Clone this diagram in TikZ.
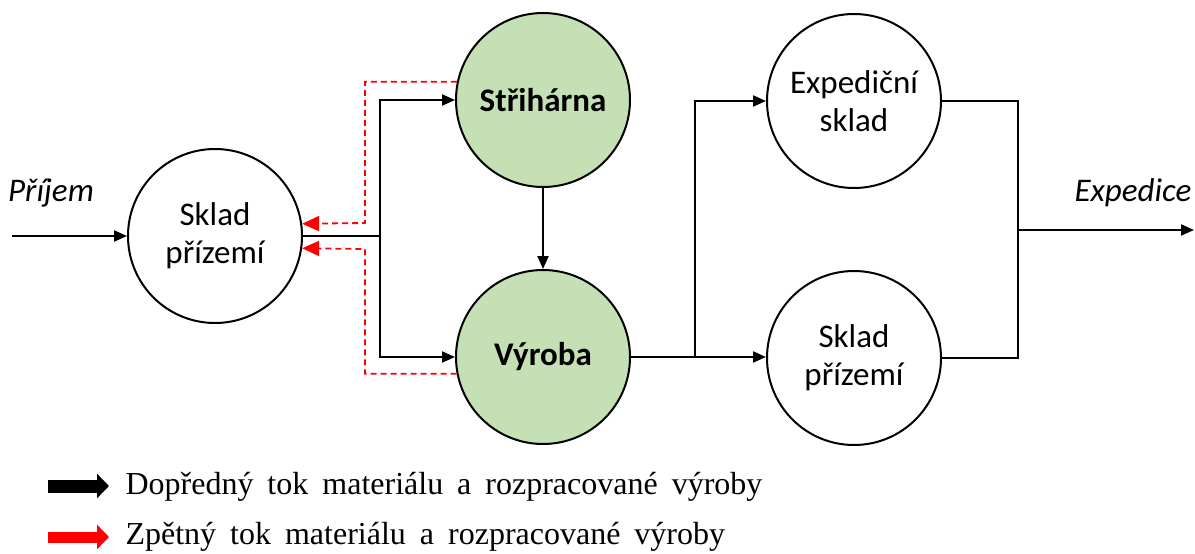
\documentclass[tikz,border=0pt]{standalone}
\usepackage{fontspec}
\setmainfont{Carlito}
\newfontfamily\legendfont{Liberation Serif}
\usetikzlibrary{arrows.meta}
\definecolor{stgreen}{HTML}{C5E0B4}
\begin{document}
\begin{tikzpicture}[x=1pt,y=-1pt,
  stn/.style={circle,draw,line width=2pt,minimum size=174pt,inner sep=0pt,align=center,font=\fontsize{33}{38}\selectfont},
  flow/.style={line width=2pt,-{Triangle[length=13pt,width=11pt]}},
  conn/.style={line width=2pt},
  back/.style={red,line width=1.8pt,dash pattern=on 6pt off 4pt,-{Triangle[length=17pt,width=15pt]}},
  lbl/.style={font=\itshape\fontsize{33}{38}\selectfont},
  legtxt/.style={anchor=west,font=\legendfont\fontsize{32}{38}\selectfont},
  legarrow/.style={line width=13pt,-{Triangle[length=12pt,width=24pt]}}]
\useasboundingbox (0,0) rectangle (1195,554);
% nodes
\node[stn] (L) at (215,236) {Sklad\\přízemí};
\node[stn,fill=stgreen] (S) at (543,100) {\textbf{Střihárna}};
\node[stn,fill=stgreen] (V) at (543,357) {\textbf{Výroba}};
\node[stn] (E) at (854,101) {Expediční\\sklad};
\node[stn] (P) at (854,358) {Sklad\\přízemí};
\node[lbl] (prijem) at (51,193) {Příjem};
\node[lbl] (expedice) at (1133,193) {Expedice};
% coordinates
\coordinate (in) at (12,236);
\coordinate (j1) at (380,236);
\coordinate (r1) at (365,223);
\coordinate (r2) at (365,249);
\coordinate (j2) at (695,357);
\coordinate (j3) at (1018,230);
\coordinate (out) at (1194,230);
% forward flow
\draw[flow] (in) -- (L.west);
\draw[conn] (L.east) -- (j1);
\draw[flow] (j1) |- (S.west);
\draw[flow] (j1) |- (V.west);
\draw[flow] (S.south) -- (V.north);
\draw[conn] (V.east) -- (j2);
\draw[flow] (j2) |- (E.west);
\draw[flow] (j2) -- (j2 -| P.west);
\draw[conn] (E.east) -| (j3);
\draw[conn] (P.east) -| (j3);
\draw[flow] (j3) -- (out);
% backward flow
\draw[back] (S.168.7) -| (r1) -- (L.8.6);
\draw[back] (V.191.3) -| (r2) -- (L.-8.6);
% legend
\coordinate (a1s) at (48,486);
\coordinate (a1e) at (109,486);
\coordinate (a2s) at (48,537);
\coordinate (a2e) at (109,537);
\draw[legarrow] (a1s) -- (a1e);
\draw[legarrow,red,line width=11pt] (a2s) -- (a2e);
\node[legtxt] (leg1) at (122,487) {\spaceskip=14pt\relax Dopředný tok materiálu a rozpracované výroby};
\node[legtxt] (leg2) at (122,537) {\spaceskip=14pt\relax Zpětný tok materiálu a rozpracované výroby};
\end{tikzpicture}
\end{document}
